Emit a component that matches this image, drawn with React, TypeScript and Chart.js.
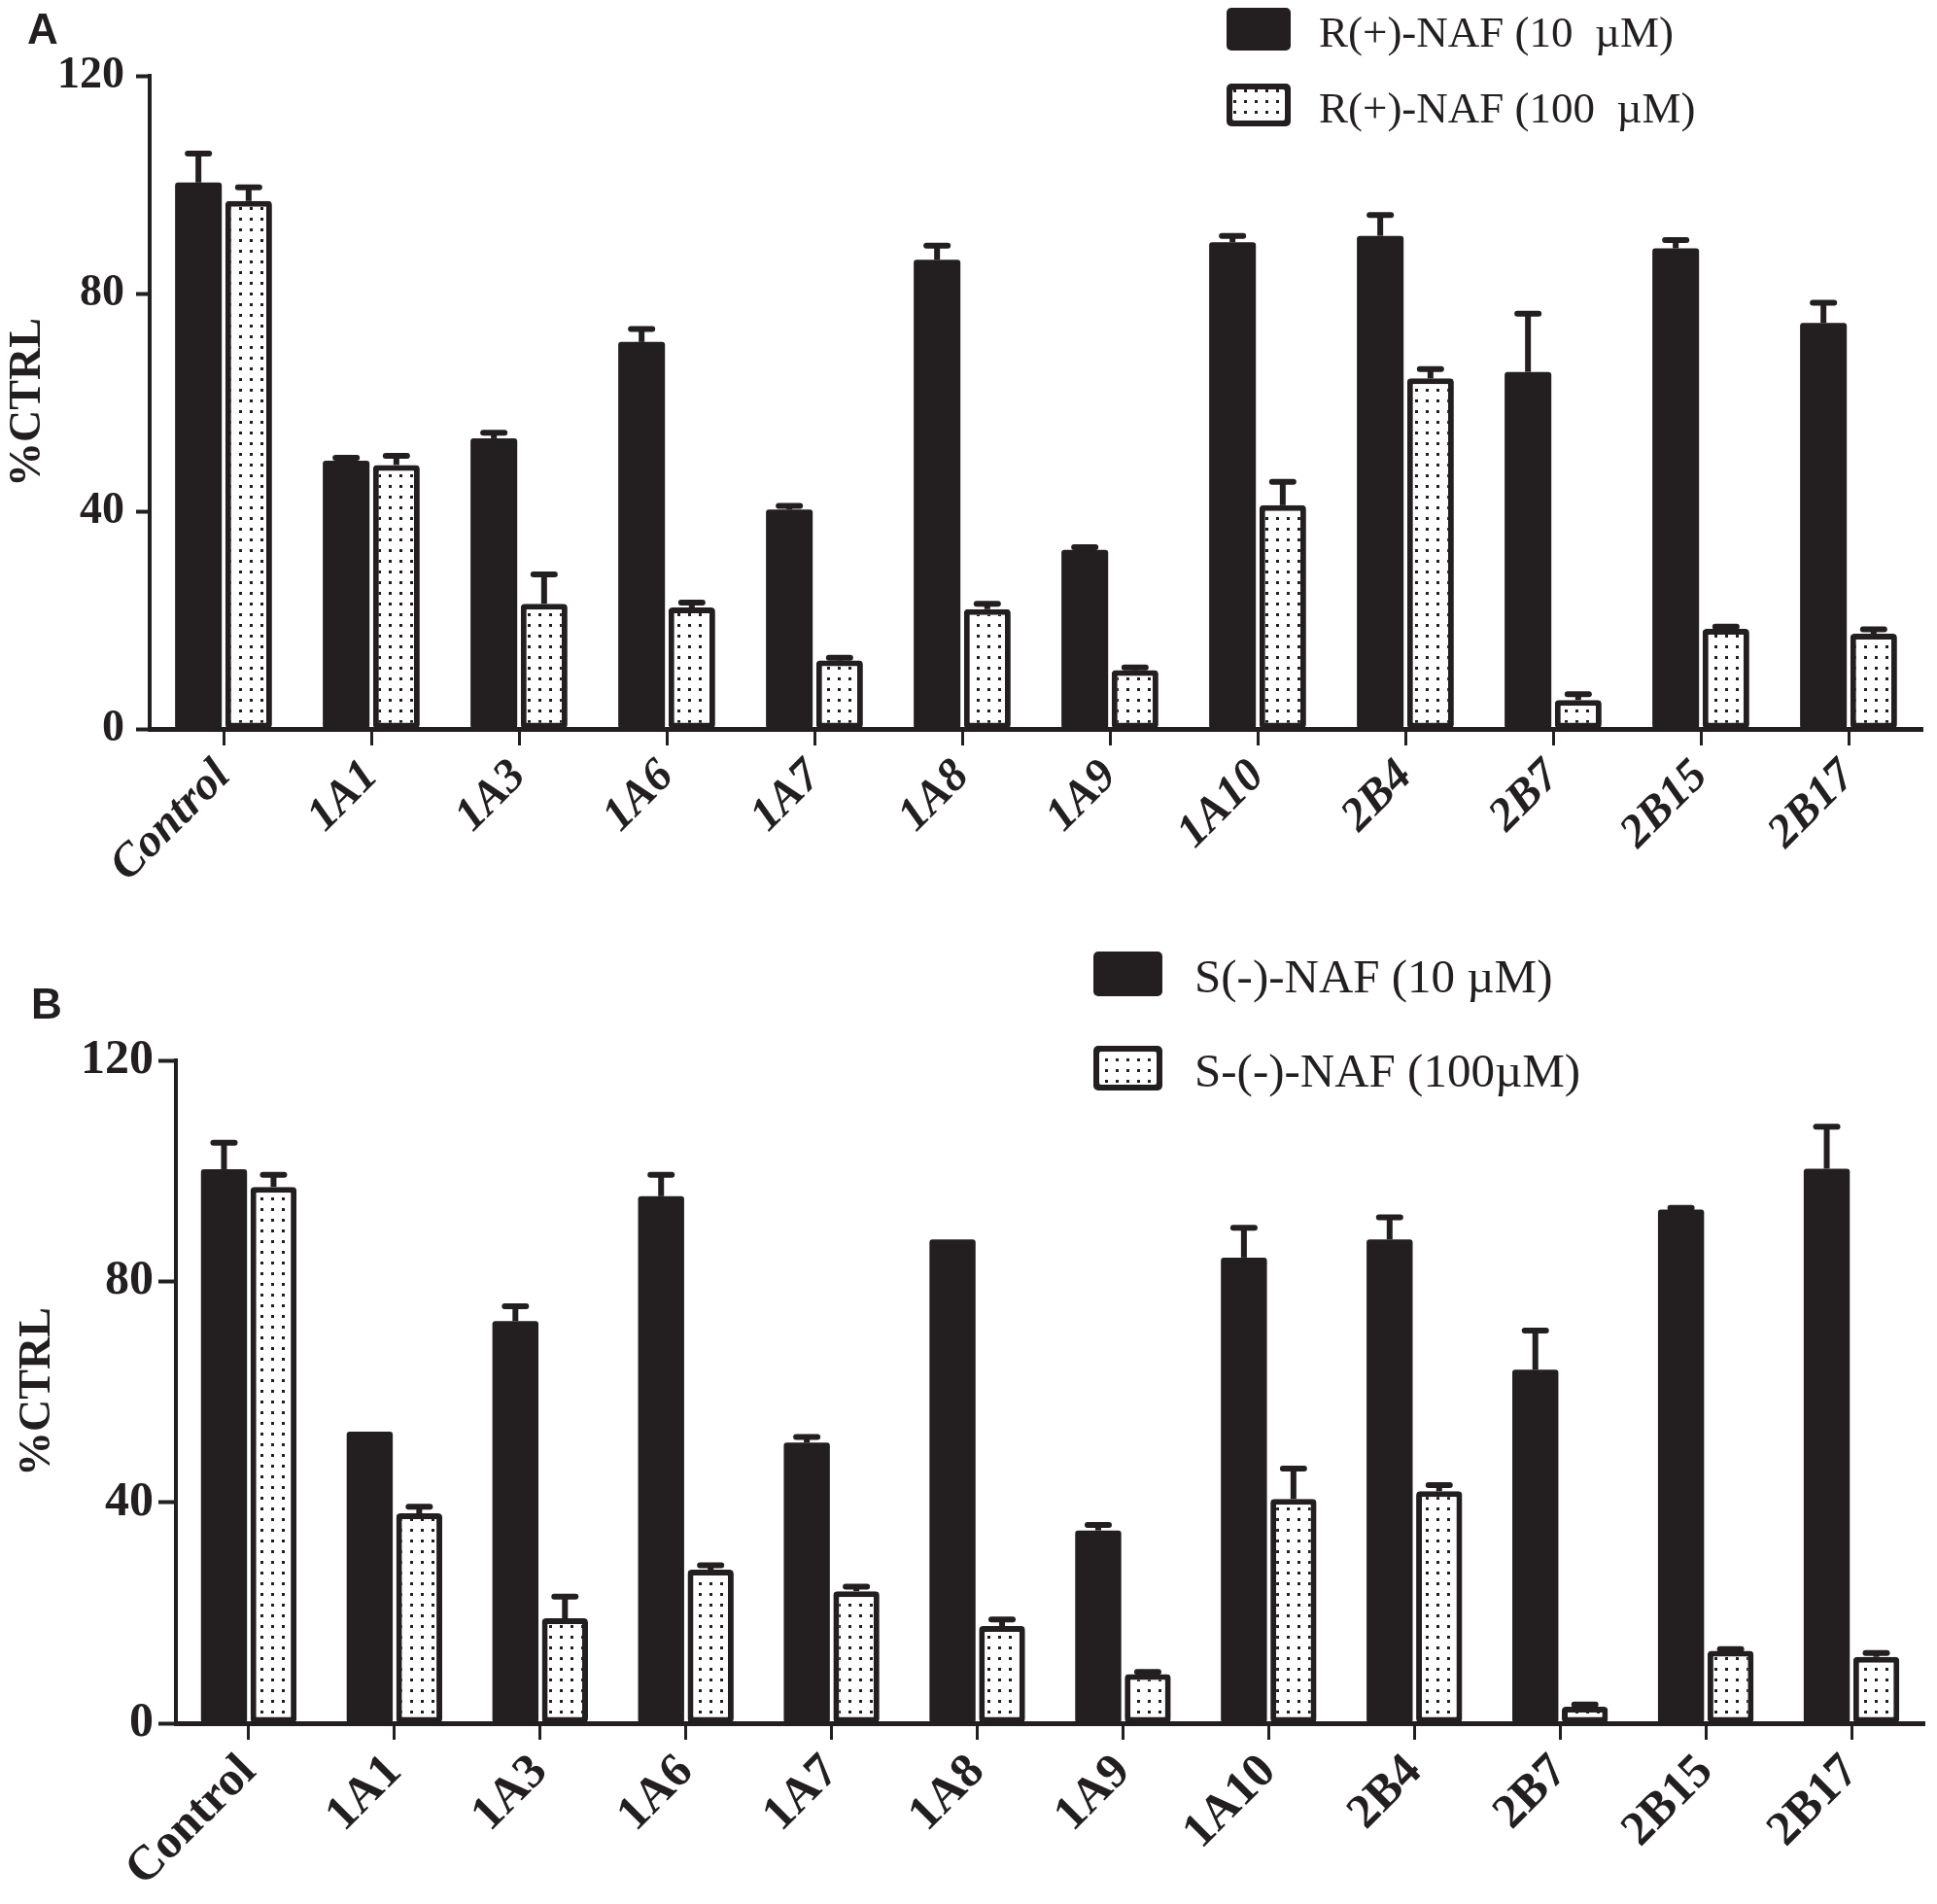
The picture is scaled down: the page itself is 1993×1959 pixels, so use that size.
import React, { useEffect, useRef } from "react";
import { Chart, registerables } from "chart.js";

Chart.register(...registerables);

const categories = ["Control", "1A1", "1A3", "1A6", "1A7", "1A8", "1A9", "1A10", "2B4", "2B7", "2B15", "2B17"];
const yTicks = [0, 40, 80, 120];

// panel A: R(+)-NAF
const rLabels = ["R(+)-NAF (10  µM)", "R(+)-NAF (100  µM)"];
const r10 = [100.4, 49.3, 53.4, 71.1, 40.3, 86.2, 32.9, 89.4, 90.6, 65.6, 88.3, 74.6];
const r10Err = [5.3, 0.5, 1.0, 2.4, 0.7, 2.6, 0.5, 1.2, 3.8, 10.7, 1.5, 3.7];
const r100 = [97.0, 48.5, 23.0, 22.3, 12.6, 22.0, 10.8, 41.1, 64.4, 5.3, 18.4, 17.5];
const r100Err = [2.5, 1.7, 5.4, 0.9, 0.5, 1.0, 0.5, 4.3, 1.7, 1.1, 0.4, 0.8];

// panel B: S(-)-NAF
const sLabels = ["S(-)-NAF (10 µM)", "S-(-)-NAF (100µM)"];
const s10 = [100.3, 52.8, 72.8, 95.4, 50.8, 87.6, 34.9, 84.3, 87.6, 64.0, 93.0, 100.4];
const s10Err = [4.8, 0, 2.7, 3.9, 1.0, 0, 1.0, 5.4, 4.0, 7.1, 0.3, 7.6];
const s100 = [97.1, 38.0, 19.0, 27.8, 23.9, 17.6, 8.9, 40.6, 42.0, 3.0, 13.1, 12.0];
const s100Err = [2.2, 1.2, 3.9, 0.8, 0.8, 1.2, 0.4, 5.5, 1.1, 0.4, 0.3, 0.7];

const INK = "#231f20";
const SERIF = "'Liberation Serif', 'Times New Roman', serif";
const W = 1993;

type PanelLayout = {
  height: number;
  left: number;
  top: number;
  right: number;
  bottom: number;
  yFont: number;
  yTickLen: number;
  yTickPad: number;
  xFont: number;
  xItalic: boolean;
  xPad: number;
  titleFont: number;
  titlePad: number;
  legendX: number;
  legendY: number[];
  legendBox: [number, number];
  legendTextX: number;
  legendFont: number;
  letterX: number;
  letterY: number;
  catPct: number;
};

const layoutA: PanelLayout = {
  height: 975, left: 154, top: 78, right: 1978, bottom: 750,
  yFont: 46, yTickLen: 14, yTickPad: 12,
  xFont: 48, xItalic: true, xPad: 4,
  titleFont: 46, titlePad: 2,
  legendX: 1262, legendY: [8, 86], legendBox: [66, 44], legendTextX: 1357, legendFont: 45,
  letterX: 28, letterY: 45, catPct: 0.68,
};

const layoutB: PanelLayout = {
  height: 984, left: 181, top: 116, right: 1980, bottom: 798,
  yFont: 50, yTickLen: 18, yTickPad: 5,
  xFont: 50, xItalic: false, xPad: 4,
  titleFont: 46, titlePad: 12,
  legendX: 1125, legendY: [4, 101], legendBox: [71, 46], legendTextX: 1229, legendFont: 49,
  letterX: 32, letterY: 73, catPct: 0.68,
};

// white cell with one black dot, repeated inside the 100 µM bars
function makeDots(ctx: CanvasRenderingContext2D) {
  const c = document.createElement("canvas");
  c.width = 11;
  c.height = 11;
  const p = c.getContext("2d")!;
  p.fillStyle = "#ffffff";
  p.fillRect(0, 0, 11, 11);
  p.fillStyle = INK;
  p.fillRect(4, 4, 3, 3);
  return ctx.createPattern(c, "repeat")!;
}

const errorBars = {
  id: "errorBars",
  afterDatasetsDraw(chart: any) {
    const { ctx } = chart;
    const y = chart.scales.y;
    chart.data.datasets.forEach((ds: any, di: number) => {
      const meta = chart.getDatasetMeta(di);
      meta.data.forEach((bar: any, i: number) => {
        const err = ds.errors[i];
        if (!err) return;
        const end = y.getPixelForValue(ds.data[i] + err);
        ctx.save();
        ctx.strokeStyle = INK;
        ctx.lineWidth = 6;
        ctx.beginPath();
        ctx.moveTo(bar.x, bar.y);
        ctx.lineTo(bar.x, end);
        ctx.stroke();
        ctx.lineCap = "round";
        ctx.beginPath();
        ctx.moveTo(bar.x - 11, end);
        ctx.lineTo(bar.x + 11, end);
        ctx.stroke();
        ctx.restore();
      });
    });
  },
};

const Panel: React.FC<{
  letter: string;
  labels: string[];
  low: number[];
  lowErr: number[];
  high: number[];
  highErr: number[];
  lay: PanelLayout;
}> = ({ letter, labels, low, lowErr, high, highErr, lay }) => {
  const chartRef = useRef<HTMLCanvasElement>(null);

  useEffect(() => {
    if (!chartRef.current) return;
    const dots = makeDots(chartRef.current.getContext("2d")!);

    // legend and panel letter, drawn over the plot
    const decorations = {
      id: "decorations",
      afterDraw(chart: any) {
        const { ctx } = chart;
        ctx.save();
        chart.data.datasets.forEach((ds: any, i: number) => {
          const [bw, bh] = lay.legendBox;
          const bx = lay.legendX;
          const by = lay.legendY[i];
          ctx.fillStyle = INK;
          ctx.beginPath();
          ctx.roundRect(bx, by, bw, bh, 5);
          ctx.fill();
          if (ds.borderWidth) {
            ctx.fillStyle = ds.backgroundColor;
            ctx.beginPath();
            ctx.roundRect(bx + 6, by + 6, bw - 12, bh - 12, 2);
            ctx.fill();
          }
          ctx.fillStyle = INK;
          ctx.font = `${lay.legendFont}px ${SERIF}`;
          ctx.textBaseline = "middle";
          ctx.textAlign = "left";
          ctx.fillText(ds.label, lay.legendTextX, by + bh / 2 + 6);
        });
        ctx.font = `bold 44px 'Liberation Sans', Arial, sans-serif`;
        ctx.textBaseline = "alphabetic";
        ctx.fillText(letter, lay.letterX, lay.letterY);
        ctx.restore();
      },
    };

    const common = {
      categoryPercentage: lay.catPct,
      barPercentage: 0.93,
      borderSkipped: false,
      borderColor: INK,
    };

    const chart = new Chart(chartRef.current, {
      type: "bar",
      data: {
        labels: categories,
        datasets: [
          { ...common, label: labels[0], data: low, errors: lowErr, backgroundColor: INK, borderWidth: 0, borderRadius: 3 } as any,
          { ...common, label: labels[1], data: high, errors: highErr, backgroundColor: dots, borderWidth: 6, borderRadius: 4 } as any,
        ],
      },
      options: {
        animation: false,
        responsive: true,
        maintainAspectRatio: false,
        layout: { padding: { top: lay.top, right: W - lay.right, left: 0, bottom: 0 } },
        plugins: { legend: { display: false }, tooltip: { enabled: false } },
        scales: {
          x: {
            offset: true,
            grid: { offset: false, drawOnChartArea: false, drawTicks: true, tickLength: 17, tickWidth: 3, tickColor: INK },
            border: { display: true, color: INK, width: 5 },
            ticks: {
              autoSkip: false,
              minRotation: 45,
              maxRotation: 45,
              padding: lay.xPad,
              color: INK,
              font: { family: SERIF, size: lay.xFont, weight: "bold", style: lay.xItalic ? "italic" : "normal" },
            },
            afterFit: (s: any) => {
              s.height = lay.height - lay.bottom;
            },
          },
          y: {
            min: 0,
            max: 120,
            afterBuildTicks: (s: any) => {
              s.ticks = yTicks.map((v) => ({ value: v }));
            },
            grid: { drawOnChartArea: false, drawTicks: true, tickLength: lay.yTickLen, tickWidth: 4, tickColor: INK },
            border: { display: true, color: INK, width: 4 },
            ticks: {
              padding: lay.yTickPad,
              color: INK,
              font: { family: SERIF, size: lay.yFont, weight: "bold" },
            },
            title: {
              display: true,
              text: "%CTRL",
              color: INK,
              padding: { top: lay.titlePad, bottom: 0 },
              font: { family: SERIF, size: lay.titleFont, weight: "bold" },
            },
            afterFit: (s: any) => {
              s.width = lay.left;
            },
          },
        },
      },
      plugins: [errorBars, decorations],
    });

    return () => {
      chart.destroy();
    };
  }, []);

  return (
    <div style={{ position: "relative", width: W, height: lay.height }}>
      <canvas ref={chartRef}></canvas>
    </div>
  );
};

const App: React.FC = () => {
  return (
    <div style={{ position: "absolute", left: 0, top: 0, width: W, height: 1959, background: "#ffffff" }}>
      <Panel letter="A" labels={rLabels} low={r10} lowErr={r10Err} high={r100} highErr={r100Err} lay={layoutA} />
      <Panel letter="B" labels={sLabels} low={s10} lowErr={s10Err} high={s100} highErr={s100Err} lay={layoutB} />
    </div>
  );
};

export default App;
